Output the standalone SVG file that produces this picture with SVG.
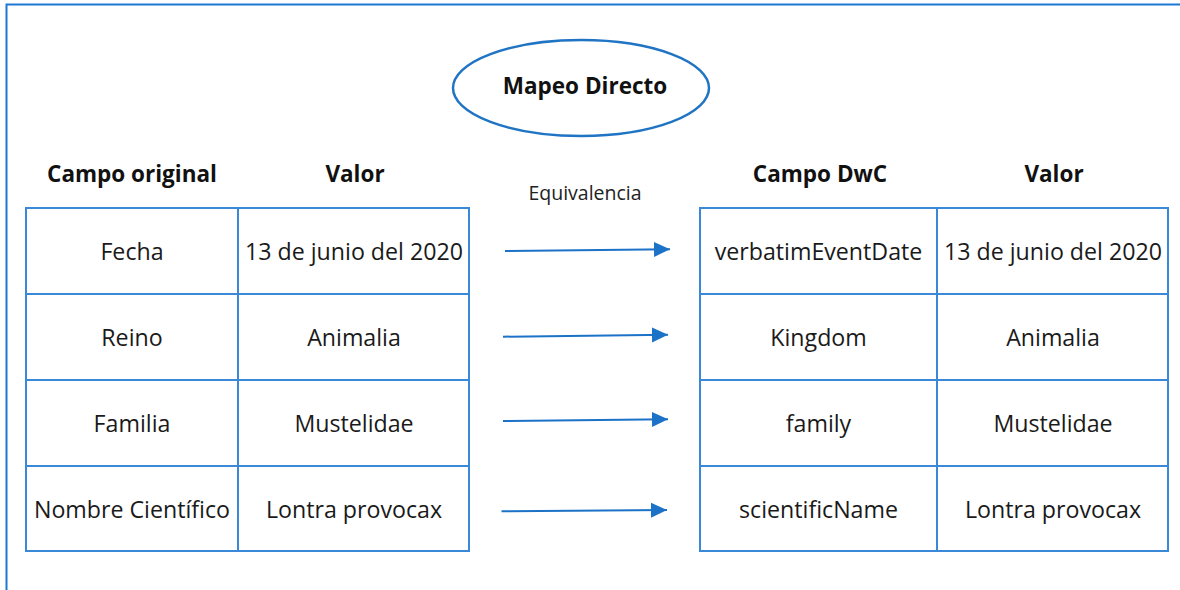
<svg xmlns="http://www.w3.org/2000/svg" width="1180" height="590" viewBox="0 0 1180 590">
<defs>
<style>
.frame{fill:none;stroke:#1c78d4;stroke-width:2}
.cell{fill:#fff;stroke:#3a88d8;stroke-width:2}
.ell{fill:#fff;stroke:#1f74c4;stroke-width:2.5}
.hdr{font-family:"Open Sans","Liberation Sans",sans-serif;font-weight:bold;font-size:22.5px;fill:#111;text-anchor:middle}
.txt{font-family:"Open Sans","Liberation Sans",sans-serif;font-size:23.2px;fill:#1a1a1a;text-anchor:middle}
.lbl{font-family:"Open Sans","Liberation Sans",sans-serif;font-size:19.5px;fill:#222;text-anchor:middle}
.arr{fill:none;stroke:#1b72c6;stroke-width:2;marker-end:url(#ah)}
</style>
<marker id="ah" markerUnits="userSpaceOnUse" markerWidth="18" markerHeight="16" refX="16" refY="7.5" orient="auto">
<path d="M0,0 L16,7.5 L0,15 Z" fill="#1b72c6"/>
</marker>
</defs>
<rect width="1180" height="590" fill="#fff"/>
<path class="frame" d="M6.5,590 V4.5 H1180"/>

<g id="titulo">
<ellipse class="ell" cx="581" cy="88" rx="128" ry="48"/>
<text class="hdr" x="585" y="94">Mapeo Directo</text>
</g>

<g id="encabezados">
<text class="hdr" x="132" y="182">Campo original</text>
<text class="hdr" x="355" y="182">Valor</text>
<text class="hdr" x="820" y="182">Campo DwC</text>
<text class="hdr" x="1054" y="182">Valor</text>
<text class="lbl" x="585" y="200">Equivalencia</text>
</g>

<g id="tabla-original">
<rect class="cell" x="26" y="208" width="212" height="86"/>
<rect class="cell" x="238" y="208" width="231" height="86"/>
<rect class="cell" x="26" y="294" width="212" height="86"/>
<rect class="cell" x="238" y="294" width="231" height="86"/>
<rect class="cell" x="26" y="380" width="212" height="86"/>
<rect class="cell" x="238" y="380" width="231" height="86"/>
<rect class="cell" x="26" y="466" width="212" height="85"/>
<rect class="cell" x="238" y="466" width="231" height="85"/>
<text class="txt" x="132" y="260">Fecha</text>
<text class="txt" x="354" y="260">13 de junio del 2020</text>
<text class="txt" x="132" y="346">Reino</text>
<text class="txt" x="354" y="346">Animalia</text>
<text class="txt" x="132" y="432">Familia</text>
<text class="txt" x="354" y="432">Mustelidae</text>
<text class="txt" x="132" y="518">Nombre Científico</text>
<text class="txt" x="354" y="518">Lontra provocax</text>
</g>

<g id="tabla-dwc">
<rect class="cell" x="700" y="208" width="237" height="86"/>
<rect class="cell" x="937" y="208" width="231" height="86"/>
<rect class="cell" x="700" y="294" width="237" height="86"/>
<rect class="cell" x="937" y="294" width="231" height="86"/>
<rect class="cell" x="700" y="380" width="237" height="86"/>
<rect class="cell" x="937" y="380" width="231" height="86"/>
<rect class="cell" x="700" y="466" width="237" height="85"/>
<rect class="cell" x="937" y="466" width="231" height="85"/>
<text class="txt" x="818.5" y="260">verbatimEventDate</text>
<text class="txt" x="1053" y="260">13 de junio del 2020</text>
<text class="txt" x="818.5" y="346">Kingdom</text>
<text class="txt" x="1053" y="346">Animalia</text>
<text class="txt" x="818.5" y="432">family</text>
<text class="txt" x="1053" y="432">Mustelidae</text>
<text class="txt" x="818.5" y="518">scientificName</text>
<text class="txt" x="1053" y="518">Lontra provocax</text>
</g>

<g id="conectores">
<path class="arr" d="M505,251 L670,249.3"/>
<path class="arr" d="M503,336.7 L668,334.8"/>
<path class="arr" d="M503,421 L668,419.3"/>
<path class="arr" d="M501.5,511.3 L667,510"/>
</g>
</svg>
